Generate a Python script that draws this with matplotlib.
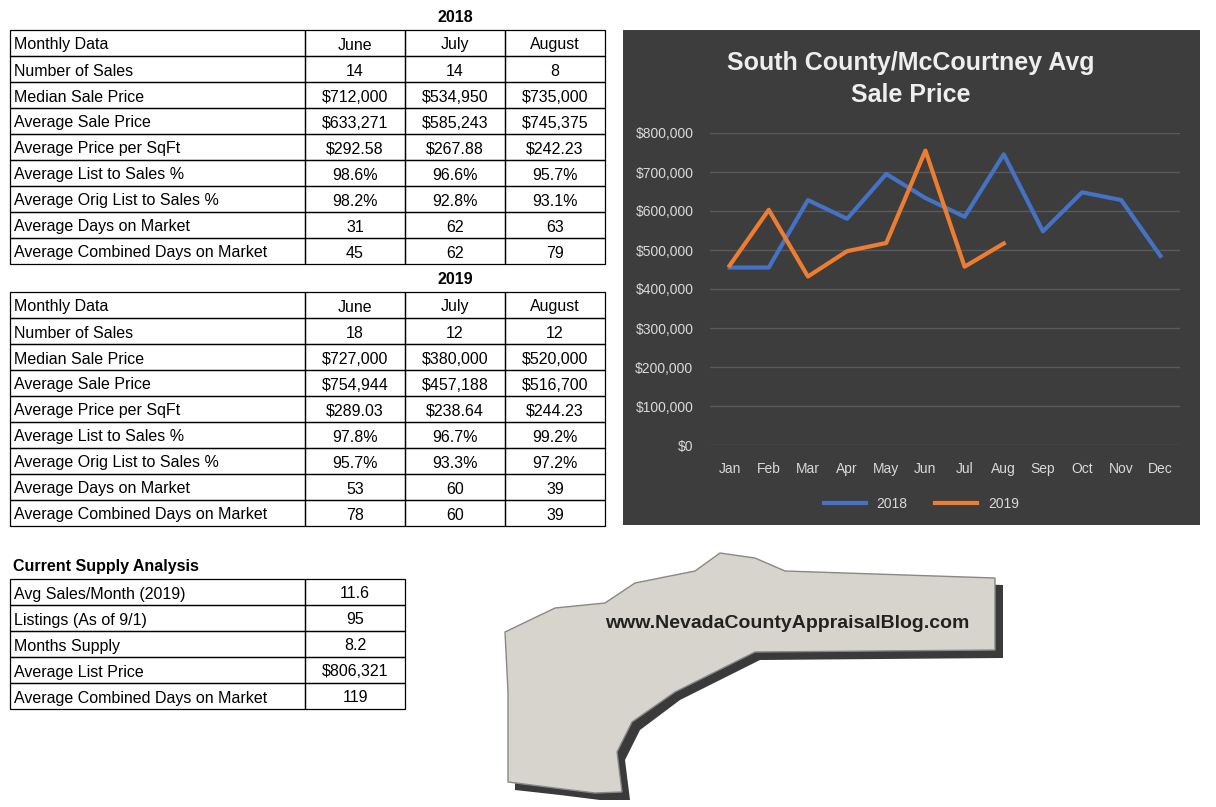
import matplotlib
matplotlib.use("Agg")
import matplotlib.pyplot as plt
from matplotlib.patches import Rectangle, Polygon

W, H = 1216, 807
plt.rcParams['font.family'] = ['Liberation Sans', 'DejaVu Sans']

row_labels = ["Monthly Data", "Number of Sales", "Median Sale Price", "Average Sale Price",
              "Average Price per SqFt", "Average List to Sales %", "Average Orig List to Sales %",
              "Average Days on Market", "Average Combined Days on Market"]
cols = ["June", "July", "August"]
data2018 = [["14", "14", "8"], ["$712,000", "$534,950", "$735,000"], ["$633,271", "$585,243", "$745,375"],
            ["$292.58", "$267.88", "$242.23"], ["98.6%", "96.6%", "95.7%"], ["98.2%", "92.8%", "93.1%"],
            ["31", "62", "63"], ["45", "62", "79"]]
data2019 = [["18", "12", "12"], ["$727,000", "$380,000", "$520,000"], ["$754,944", "$457,188", "$516,700"],
            ["$289.03", "$238.64", "$244.23"], ["97.8%", "96.7%", "99.2%"], ["95.7%", "93.3%", "97.2%"],
            ["53", "60", "39"], ["78", "60", "39"]]
supply_labels = ["Avg Sales/Month (2019)", "Listings (As of 9/1)", "Months Supply",
                 "Average List Price", "Average Combined Days on Market"]
supply_values = ["11.6", "95", "8.2", "$806,321", "119"]

months = ["Jan", "Feb", "Mar", "Apr", "May", "Jun", "Jul", "Aug", "Sep", "Oct", "Nov", "Dec"]
avg2018 = [455000, 455000, 628000, 580000, 695000, 633271, 585243, 745375, 548000, 648000, 628000, 485000]
avg2019 = [460000, 603000, 432000, 497000, 518000, 754944, 457188, 516700]

fig = plt.figure(figsize=(W/100, H/100), dpi=100)
bg = fig.add_axes([0, 0, 1, 1])
bg.set_xlim(0, W); bg.set_ylim(H, 0); bg.axis('off')
FS = 11.5

def table(top, rows, colx, rh=26):
    for i, row in enumerate(rows):
        y = top + i*rh
        for j, cell in enumerate(row):
            x0, x1 = colx[j], colx[j+1]
            bg.add_patch(Rectangle((x0, y), x1-x0, rh, fill=False, lw=0.9, ec='black'))
            if j == 0:
                bg.text(x0+4, y+rh/2+2, cell, va='center', ha='left', fontsize=FS)
            else:
                bg.text((x0+x1)/2, y+rh/2+2, cell, va='center', ha='center', fontsize=FS)

colx = [10, 305, 405, 505, 605]
bg.text(455, 17, "2018", ha='center', va='center', fontsize=FS, fontweight='bold')
table(30, [[row_labels[0]]+cols] + [[l]+d for l, d in zip(row_labels[1:], data2018)], colx)
bg.text(455, 279, "2019", ha='center', va='center', fontsize=FS, fontweight='bold')
table(292, [[row_labels[0]]+cols] + [[l]+d for l, d in zip(row_labels[1:], data2019)], colx)
bg.text(13, 567, "Current Supply Analysis", ha='left', va='center', fontsize=FS, fontweight='bold')
table(579, [[l, v] for l, v in zip(supply_labels, supply_values)], [10, 305, 405])

# logo approximation
shadow = [(512,640),(560,615),(610,610),(640,590),(700,578),(725,560),(760,565),(790,578),(1003,585),(1003,658),
          (760,660),(720,680),(680,700),(640,730),(625,760),(630,800),(600,800),(560,795),(515,790),(515,700)]
bg.add_patch(Polygon(shadow, closed=True, fc='#3a3a3a', ec='none'))
shape = [(505,632),(555,608),(605,603),(635,583),(695,571),(720,553),(755,558),(785,571),(995,578),(995,650),
         (755,652),(715,672),(675,692),(632,722),(617,752),(622,792),(595,793),(555,788),(508,782),(508,692)]
bg.add_patch(Polygon(shape, closed=True, fc='#d6d4cc', ec='#888888', lw=1))
bg.text(787, 624, "www.NevadaCountyAppraisalBlog.com", ha='center', va='center', fontsize=14,
        color='#222222', fontweight='bold')

# chart
bg.add_patch(Rectangle((623, 30), 577, 495, fc='#3d3d3d', ec='none'))
x0, x1 = 710, 1180
ax = fig.add_axes([x0/W, 1-445/H, (x1-x0)/W, (445-133)/H])
ax.set_facecolor('none')
ax.plot(range(12), avg2018, color='#4472C4', lw=3, label='2018')
ax.plot(range(8), avg2019, color='#ED7D31', lw=3, label='2019')
ax.set_xlim(-0.5, 11.5)
ax.set_ylim(0, 800000)
ax.set_yticks(range(0, 800001, 100000))
ax.set_yticklabels(["$0"] + [f"${v:,}" for v in range(100000, 800001, 100000)])
ax.set_xticks(range(12)); ax.set_xticklabels(months)
ax.tick_params(colors='#d9d9d9', length=0, labelsize=10, pad=12)
ax.grid(axis='y', color='#5a5a5a', lw=1)
ax.set_axisbelow(True)
for s in ax.spines.values(): s.set_visible(False)
ax.legend(loc='upper center', bbox_to_anchor=(0.45, -0.125), ncol=2, frameon=False,
          labelcolor='#d9d9d9', fontsize=10, handlelength=3)
bg.text(911, 79, "South County/McCourtney Avg\nSale Price", ha='center', va='center', fontsize=18,
        color='#eeeeee', fontweight='bold', linespacing=1.4)

fig.savefig("out.png", dpi=100, facecolor='white')
